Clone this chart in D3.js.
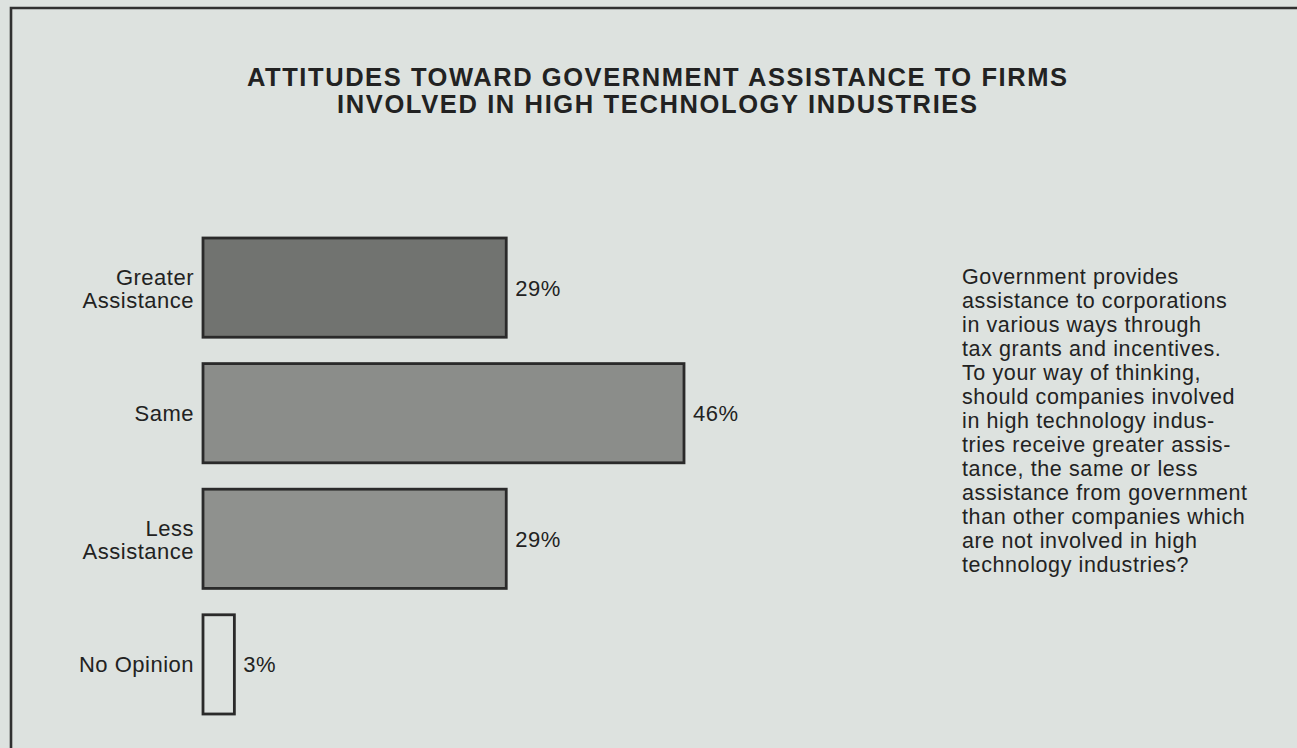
<!DOCTYPE html>
<html>
<head>
<meta charset="utf-8">
<script src="https://cdn.jsdelivr.net/npm/d3@7"></script>
<style>
  html, body { margin: 0; padding: 0; background: #dde2df; }
  svg { display: block; }
  text { font-family: "Liberation Sans", Arial, Helvetica, sans-serif; fill: #222222; }
</style>
</head>
<body>
<svg id="chart" width="1297" height="748"></svg>
<script>
// Survey answers and their shares (percent)
const categories = ["Greater Assistance", "Same", "Less Assistance", "No Opinion"];
const labelLines = [["Greater", "Assistance"], ["Same"], ["Less", "Assistance"], ["No Opinion"]];
const shares = [29, 46, 29, 3];
const valueLabels = ["29%", "46%", "29%", "3%"];

const titleLines = [
  "ATTITUDES TOWARD GOVERNMENT ASSISTANCE TO FIRMS",
  "INVOLVED IN HIGH TECHNOLOGY INDUSTRIES"
];

const questionLines = [
  "Government provides",
  "assistance to corporations",
  "in various ways through",
  "tax grants and incentives.",
  "To your way of thinking,",
  "should companies involved",
  "in high technology indus-",
  "tries receive greater assis-",
  "tance, the same or less",
  "assistance from government",
  "than other companies which",
  "are not involved in high",
  "technology industries?"
];

const W = 1297, H = 748;
const svg = d3.select("#chart");

// page background
svg.append("rect").attr("width", W).attr("height", H).attr("fill", "#dde2df");

// box rule: top and left edges of the frame
svg.append("path")
  .attr("d", `M11,${H + 5} L11,8 L${W + 5},8`)
  .attr("fill", "none")
  .attr("stroke", "#303030")
  .attr("stroke-width", 2.6);

// title
const titleWidths = [820, 640];
svg.selectAll("text.title")
  .data(titleLines)
  .join("text")
  .attr("class", "title")
  .attr("x", 657)
  .attr("y", (d, i) => 86 + i * 27)
  .attr("text-anchor", "middle")
  .attr("font-size", 25.5)
  .attr("font-weight", "bold")
  .attr("textLength", (d, i) => titleWidths[i])
  .attr("lengthAdjust", "spacing")
  .text(d => d);

// scales
const x = d3.scaleLinear().domain([0, 46]).range([203, 684]);
const y = d3.scaleBand().domain(categories).range([238, 714]).paddingInner(0.21).paddingOuter(0);
const fill = d3.scaleOrdinal().domain(categories).range(["#717370", "#8b8d8a", "#8f918e", "#dde2df"]);

const rows = categories.map((c, i) => ({ cat: c, lines: labelLines[i], v: shares[i], label: valueLabels[i] }));

const g = svg.append("g");

// bars
g.selectAll("rect.bar")
  .data(rows)
  .join("rect")
  .attr("class", "bar")
  .attr("x", x(0))
  .attr("y", d => y(d.cat))
  .attr("width", d => x(d.v) - x(0))
  .attr("height", y.bandwidth())
  .attr("fill", d => fill(d.cat))
  .attr("stroke", "#2a2a2a")
  .attr("stroke-width", 2.8);

// category labels, right-aligned next to the bars
const cats = g.selectAll("text.cat")
  .data(rows)
  .join("text")
  .attr("class", "cat")
  .attr("text-anchor", "end")
  .attr("font-size", 22)
  .attr("letter-spacing", 0.5)
  .attr("x", x(0) - 9);
cats.selectAll("tspan")
  .data(d => d.lines.map((t, j) => ({ t, j, n: d.lines.length, cy: y(d.cat) + y.bandwidth() / 2 })))
  .join("tspan")
  .attr("x", x(0) - 9)
  .attr("y", d => d.n === 1 ? d.cy + 8 : d.cy - 3 + d.j * 23.5)
  .text(d => d.t);

// value labels at the bar ends
g.selectAll("text.val")
  .data(rows)
  .join("text")
  .attr("class", "val")
  .attr("font-size", 22)
  .attr("letter-spacing", 0.5)
  .attr("x", d => x(d.v) + 9)
  .attr("y", d => y(d.cat) + y.bandwidth() / 2 + 8)
  .text(d => d.label);

// question wording
svg.append("text")
  .attr("font-size", 21.5)
  .attr("letter-spacing", 0.6)
  .selectAll("tspan")
  .data(questionLines)
  .join("tspan")
  .attr("x", 962)
  .attr("y", (d, i) => 284 + i * 24)
  .text(d => d);
</script>
</body>
</html>
